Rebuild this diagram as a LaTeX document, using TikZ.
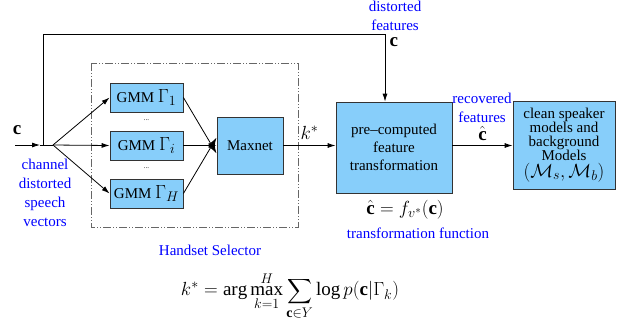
\RequirePackage{fix-cm}
\documentclass[tikz,border=0pt]{standalone}
\usepackage{amsmath}
\usepackage{fontspec}
\setmainfont{Liberation Serif}
\usetikzlibrary{arrows.meta}
\DeclareMathSizes{15}{19}{14}{11}

\definecolor{boxblue}{RGB}{135,206,250}

\begin{document}
\begin{tikzpicture}[>={Latex[length=8pt,width=5pt]}, x=1pt, y=-1pt, line width=.8pt,
  every node/.style={font=\fontsize{15}{19}\selectfont},
  box/.style={draw=black!80, fill=boxblue, inner sep=2pt, align=center},
  lbl/.style={text=blue, align=center}]

\useasboundingbox (0,0) rectangle (628,322);

% handset selector frame
\draw [black!60, dash pattern=on 8pt off 2pt on 1pt off 2pt on 1pt off 2pt] (91,63) rectangle (298,227);
\node [lbl] (hs) at (210,250) {Handset Selector};

% gmm bank
\node [box, minimum width=73pt, minimum height=29pt] (g1) at (146.5,97.5) {GMM $\Gamma_1$};
\node [box, minimum width=73pt, minimum height=29pt] (gi) at (146.5,145.5) {GMM $\Gamma_i$};
\node [box, minimum width=73pt, minimum height=29pt] (gH) at (146.5,193.5) {GMM $\Gamma_H$};
\node [font=\fontsize{7}{8}\selectfont] (d1) at (146.5,120) {...};
\node [font=\fontsize{7}{8}\selectfont] (d2) at (146.5,168) {...};

\node [box, minimum width=66pt, minimum height=57pt] (mx) at (250,145.5) {Maxnet};

\node [box, minimum width=116pt, minimum height=91pt, font=\fontsize{15}{18}\selectfont] (pre) at (394,147.5)
  {pre--computed\\feature\\transformation};

\node [box, minimum width=102pt, minimum height=88pt, inner sep=1pt, font=\fontsize{15}{14}\selectfont] (cl) at (564,145)
  {clean speaker\\models and\\background\\Models\\[1pt]$(\mathcal{M}_s,\mathcal{M}_b)$};

% input and split
\coordinate (in) at (15,145);
\coordinate (tip) at (40,145);
\coordinate (tap) at (43,145);
\coordinate (split) at (53,145);
\coordinate (corner) at (385,34);

\draw [->] (in)--(tip);
\draw (tip)--(split);
\node (cin) at (17,130) {$\mathbf{c}$};
\node [lbl] (chan) at (45,193) {channel\\distorted\\speech\\vectors};

\draw [->] (split)--(g1.west);
\draw [->] (split)--(gi.west);
\draw [->] (split)--(gH.west);

\draw [->] (g1.east)--([yshift=-8pt]mx.west);
\draw [->] (gi.east)--(mx.west);
\draw [->] (gH.east)--([yshift=8pt]mx.west);

\draw [->] (mx.east)--(mx.east -| pre.west) node [midway, above=2pt] {$k^*$};

% bypass of distorted features
\draw [->] (tap)|-(corner)--(corner |- pre.north);
\node [anchor=west] (cup) at (386,42) {$\mathbf{c}$};
\node [lbl] (dist) at (395,16) {distorted\\features};

\draw [->] (pre.east |- mx)--(cl.west |- mx) node [midway, above=1pt] (chat) {$\hat{\mathbf{c}}$};
\node [lbl] (rec) at (482,108) {recovered\\features};

\node (fn) at (405,210) {$\hat{\mathbf{c}}=f_{v^*}(\mathbf{c})$};
\node [lbl] (tf) at (418,233) {transformation function};

\node (eq) at (290,296) {$\displaystyle k^*=\arg\max_{k=1}^{H}\sum_{\mathbf{c}\in Y}\log p(\mathbf{c}|\Gamma_k)$};

\end{tikzpicture}
\end{document}
